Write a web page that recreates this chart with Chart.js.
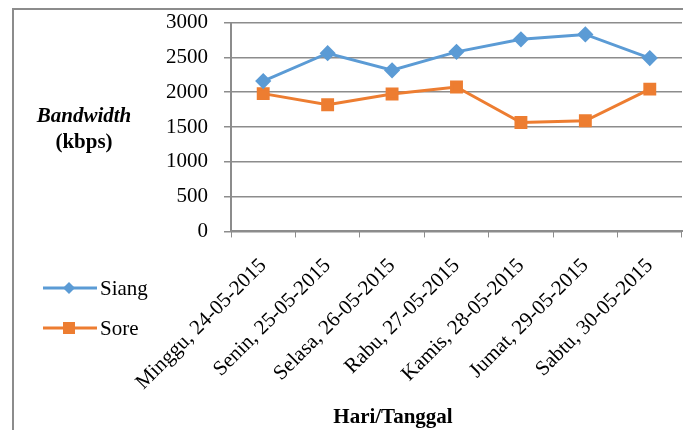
<!DOCTYPE html>
<html>
<head>
<meta charset="utf-8">
<script src="https://cdn.jsdelivr.net/npm/chart.js@4.4.1/dist/chart.umd.min.js"></script>
<style>
  html, body { margin: 0; padding: 0; background: #fff; }
  #wrap { position: relative; width: 683px; height: 430px; overflow: hidden; }
  #frame { position: absolute; left: 12px; top: 8px; width: 700px; height: 450px; border: 2px solid #8c8c8c; box-sizing: border-box; }
  canvas { position: absolute; left: 0; top: -6px; }
</style>
</head>
<body>
<div id="wrap">
  <div id="frame"></div>
  <canvas id="chartBandwidth" width="692" height="436"></canvas>
</div>
<script>
const days = [
    "Minggu, 24-05-2015",
    "Senin, 25-05-2015",
    "Selasa, 26-05-2015",
    "Rabu, 27-05-2015",
    "Kamis, 28-05-2015",
    "Jumat, 29-05-2015",
    "Sabtu, 30-05-2015"
];
const siang = [2160, 2560, 2315, 2580, 2760, 2830, 2490];
const sore = [1980, 1820, 1975, 2075, 1565, 1590, 2045];
const yTicks = [0, 500, 1000, 1500, 2000, 2500, 3000];

const serif = "'Liberation Serif', 'Times New Roman', serif";
const axisGray = "#8c8c8c";
const shiftY = 6; // canvas sits 6px above the page edge

// titles and the legend sit outside the plot area, so they are drawn here
const extraText = {
    id: "extraText",
    afterDraw(chart) {
        const ctx = chart.ctx;
        ctx.save();
        ctx.fillStyle = "#000";
        ctx.textAlign = "center";
        ctx.textBaseline = "middle";
        ctx.font = "italic bold 21px " + serif;
        ctx.fillText("Bandwidth", 84, 117 + shiftY);
        ctx.font = "bold 21px " + serif;
        ctx.fillText("(kbps)", 84, 143 + shiftY);
        ctx.fillText("Hari/Tanggal", 393, 418 + shiftY);

        const rows = [288 + shiftY, 328 + shiftY];
        chart.data.datasets.forEach(function (ds, i) {
            const y = rows[i];
            ctx.strokeStyle = ds.borderColor;
            ctx.lineWidth = 3;
            ctx.beginPath();
            ctx.moveTo(43, y);
            ctx.lineTo(97, y);
            ctx.stroke();
            ctx.fillStyle = ds.backgroundColor;
            ctx.beginPath();
            if (ds.pointStyle === "rectRot") {
                ctx.moveTo(69, y - 6);
                ctx.lineTo(75, y);
                ctx.lineTo(69, y + 6);
                ctx.lineTo(63, y);
            } else {
                ctx.rect(63, y - 6, 12, 12);
            }
            ctx.closePath();
            ctx.fill();
            ctx.fillStyle = "#000";
            ctx.textAlign = "left";
            ctx.font = "21px " + serif;
            ctx.fillText(ds.label, 100, y + 1);
        });
        ctx.restore();
    }
};

const ctxBandwidth = document.getElementById("chartBandwidth").getContext("2d");

const chartBandwidth = new Chart(ctxBandwidth, {
    type: "line",
    data: {
        labels: days,
        datasets: [
            {
                label: "Siang",
                data: siang,
                borderColor: "#5b9bd5",
                backgroundColor: "#5b9bd5",
                borderWidth: 3,
                pointStyle: "rectRot",
                pointRadius: 6,
                pointHoverRadius: 6,
                tension: 0
            },
            {
                label: "Sore",
                data: sore,
                borderColor: "#ed7d31",
                backgroundColor: "#ed7d31",
                borderWidth: 3,
                pointStyle: "rect",
                pointRadius: 7,
                pointHoverRadius: 7,
                tension: 0
            }
        ]
    },
    options: {
        responsive: false,
        animation: false,
        layout: {
            padding: { left: 150, right: 2, top: 10, bottom: 19 }
        },
        plugins: {
            legend: { display: false },
            tooltip: { enabled: false }
        },
        scales: {
            x: {
                offset: true,
                grid: {
                    offset: true,
                    drawOnChartArea: false,
                    color: axisGray,
                    tickLength: 6
                },
                border: { color: axisGray, width: 2 },
                ticks: {
                    color: "#000",
                    font: { family: serif, size: 21 },
                    minRotation: 45,
                    maxRotation: 45,
                    padding: 16
                }
            },
            y: {
                min: 0,
                max: 3000,
                afterBuildTicks(scale) {
                    scale.ticks = yTicks.map(function (v) { return { value: v }; });
                },
                grid: {
                    color: axisGray,
                    lineWidth: 1.5,
                    tickLength: 7
                },
                border: { color: axisGray, width: 2 },
                ticks: {
                    color: "#000",
                    font: { family: serif, size: 21 },
                    padding: 16,
                    callback: function (v) { return String(v); }
                }
            }
        }
    },
    plugins: [extraText]
});
</script>
</body>
</html>
